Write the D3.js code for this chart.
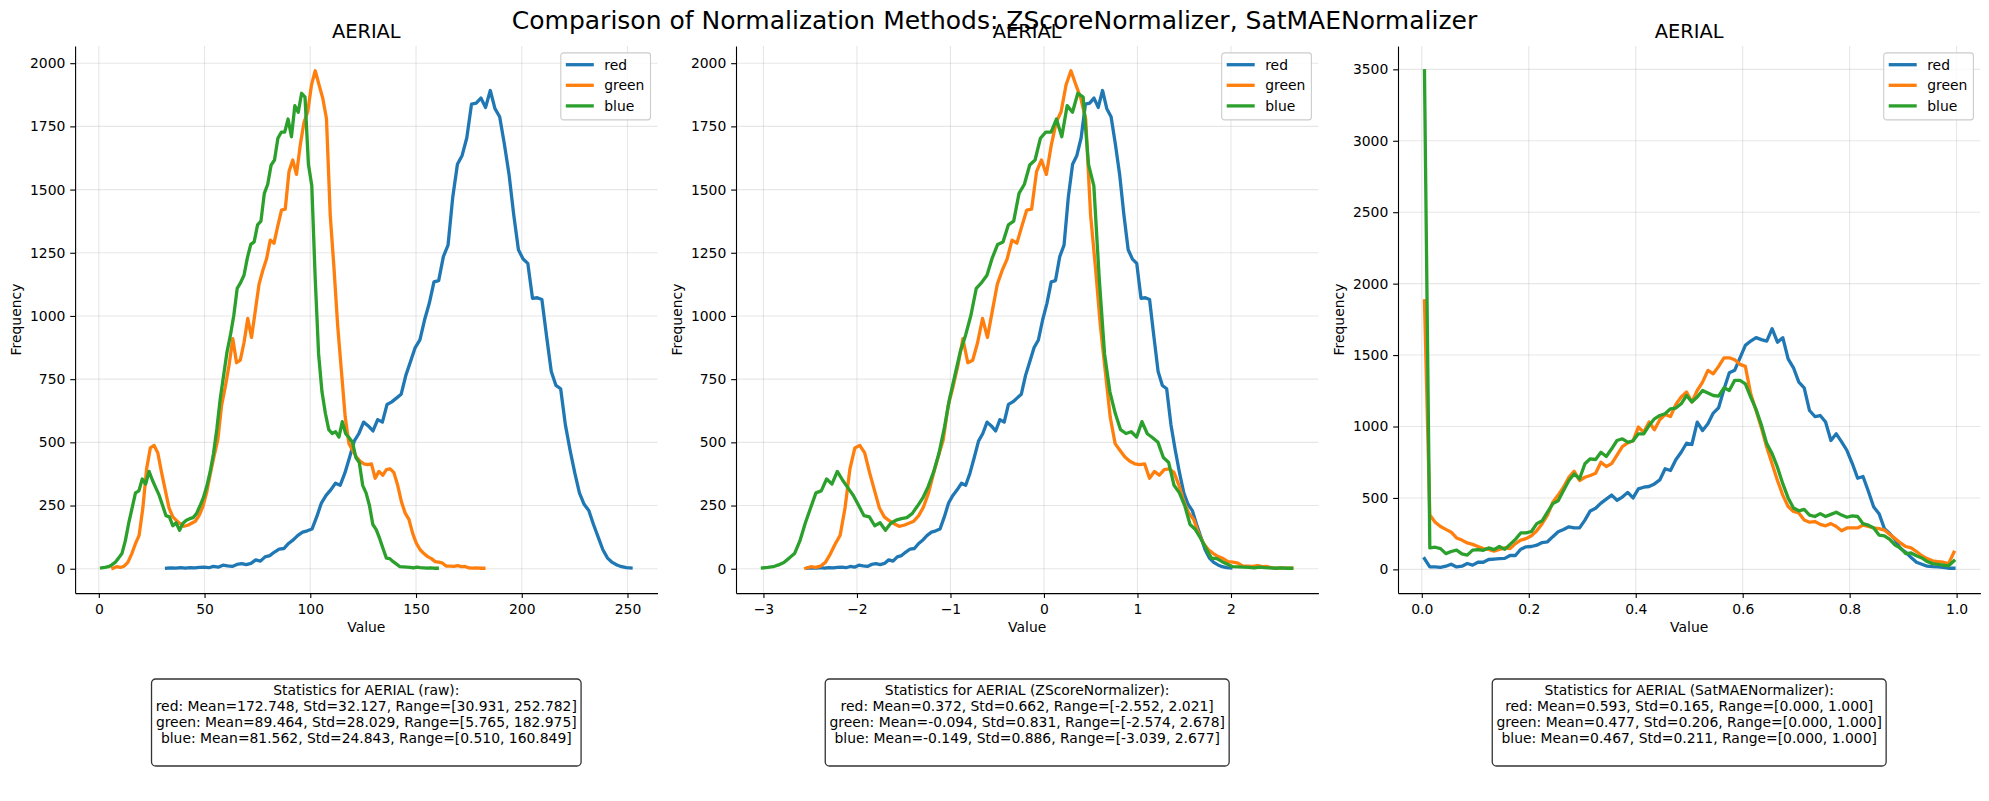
<!DOCTYPE html>
<html>
<head>
<meta charset="utf-8">
<script src="https://cdn.jsdelivr.net/npm/d3@7"></script>
<style>
body { margin: 0; background: #fff; }
svg text { font-family: "DejaVu Sans", sans-serif; fill: #000; }
</style>
</head>
<body>
<div id="chart"></div>
<script>
// ---- data ----
const channels = ["red", "green", "blue"]
const lineColors = ["#1f77b4", "#ff7f0e", "#2ca02c"]
const nBins = 100

// raw histogram counts, 100 bins per channel (the z-score panel uses the same bins)
const rawRed = [2,3,2,4,2,4,3,5,6,4, 9,6,14,11,9,17,20,16,21,35,
  30,47,52,66,78,80,100,114,132,145, 150,157,205,260,290,312,338,330,378,440,
  505,535,580,565,545,590,580,650,660,675, 690,765,820,875,905,985,1050,1135,1140,1235,
  1280,1470,1600,1635,1705,1838,1842,1862,1825,1892, 1820,1788,1680,1560,1400,1262,1225,1208,1070,1072,
  1065,920,780,725,712,570,470,380,300,255, 230,175,125,75,42,25,15,8,4,3]
const rawGreen = [2,8,5,10,25,58,98,132,240,395, 478,488,458,380,310,240,205,190,178,168,
  172,180,188,210,245,300,375,445,510,645, 720,805,910,815,825,895,990,915,1020,1125,
  1180,1225,1300,1288,1355,1419,1423,1571,1617,1560, 1676,1766,1808,1914,1970,1915,1862,1780,1400,1190,
  960,780,600,495,468,442,425,415,412,415, 358,385,370,392,395,380,330,265,220,195,
  140,100,75,60,48,40,28,26,22,10, 10,9,12,8,9,3,2,3,2,2]
const rawBlue = [3,5,8,15,25,42,60,110,180,240, 300,308,355,335,385,350,320,290,250,210,
  205,170,182,152,180,192,198,202,218,248, 280,325,382,455,554,673,765,858,924,1003,
  1109,1132,1161,1230,1283,1293,1360,1375,1485,1521, 1597,1617,1703,1727,1727,1779,1709,1832,1806,1881,
  1866,1600,1515,1150,850,700,615,550,535,542, 521,582,534,518,500,440,420,330,300,250,
  175,155,120,80,42,40,28,18,8,7, 6,5,3,6,4,3,2,3,2,2]

// SatMAE-normalised histogram counts, 100 bins on [0, 1]
const satRed = [75,17,17,14,22,36,17,22,41,30, 50,50,69,72,75,77,97,97,141,158,
  160,169,188,193,229,263,279,298,290,290, 345,409,428,464,492,520,484,506,539,500,
  563,575,580,598,626,704,692,767,820,883, 874,1031,972,1019,1094,1131,1260,1376,1393,1480,
  1568,1598,1622,1608,1598,1685,1590,1622,1474,1411, 1311,1271,1112,1070,1077,1031,902,949,893,832,
  741,638,650,547,437,390,285,251,207,146, 119,83,50,36,22,19,17,14,8,8]
const satGreen = [1880,380,330,300,280,260,220,205,185,175, 160,145,140,128,140,150,145,180,205,215,
  235,270,320,380,470,520,575,645,687,622, 645,657,673,750,720,740,800,860,885,900,
  996,960,1031,977,1047,1084,1070,1154,1206,1241, 1171,1252,1311,1393,1369,1421,1481,1481,1467,1435,
  1421,1229,1112,990,855,739,622,520,440,405, 395,345,330,335,315,305,320,300,270,290,
  290,290,310,300,290,285,275,245,215,185, 160,150,125,95,75,60,55,50,40,120]
const satBlue = [3490,150,155,145,110,125,135,108,100,135, 138,133,150,138,160,140,175,210,255,255,
  265,320,340,400,460,480,552,622,668,634, 739,774,769,820,790,844,902,914,890,900,
  949,949,1007,1054,1077,1089,1124,1129,1159,1217, 1171,1206,1252,1234,1217,1213,1271,1252,1323,1323,
  1299,1206,1120,1010,880,810,715,600,500,430, 410,420,380,370,390,370,385,400,380,365,
  375,370,320,310,290,240,235,210,170,150, 110,115,95,80,55,40,35,30,25,60]

// value ranges per channel (from the statistics boxes)
const rawRanges = [[30.931, 252.782], [5.765, 182.975], [0.510, 160.849]]
const zRanges = [[-2.552, 2.021], [-2.574, 2.678], [-3.039, 2.677]]
const satRanges = [[0, 1], [0, 1], [0, 1]]

const xTicksRaw = [0, 50, 100, 150, 200, 250]
const xTicksZ = [-3, -2, -1, 0, 1, 2]
const xTicksSat = [0, 0.2, 0.4, 0.6, 0.8, 1.0]
const yTicksRaw = [0, 250, 500, 750, 1000, 1250, 1500, 1750, 2000]
const yTicksSat = [0, 500, 1000, 1500, 2000, 2500, 3000, 3500]

const suptitle = "Comparison of Normalization Methods: ZScoreNormalizer, SatMAENormalizer"
const statsRaw = ["Statistics for AERIAL (raw):",
  "red: Mean=172.748, Std=32.127, Range=[30.931, 252.782]",
  "green: Mean=89.464, Std=28.029, Range=[5.765, 182.975]",
  "blue: Mean=81.562, Std=24.843, Range=[0.510, 160.849]"]
const statsZ = ["Statistics for AERIAL (ZScoreNormalizer):",
  "red: Mean=0.372, Std=0.662, Range=[-2.552, 2.021]",
  "green: Mean=-0.094, Std=0.831, Range=[-2.574, 2.678]",
  "blue: Mean=-0.149, Std=0.886, Range=[-3.039, 2.677]"]
const statsSat = ["Statistics for AERIAL (SatMAENormalizer):",
  "red: Mean=0.593, Std=0.165, Range=[0.000, 1.000]",
  "green: Mean=0.477, Std=0.206, Range=[0.000, 1.000]",
  "blue: Mean=0.467, Std=0.211, Range=[0.000, 1.000]"]

const panels = [
  {counts: [rawRed, rawGreen, rawBlue], ranges: rawRanges, xTicks: xTicksRaw, yTicks: yTicksRaw, fmt: d3.format("d"), stats: statsRaw},
  {counts: [rawRed, rawGreen, rawBlue], ranges: zRanges, xTicks: xTicksZ, yTicks: yTicksRaw, fmt: d3.format("d"), stats: statsZ},
  {counts: [satRed, satGreen, satBlue], ranges: satRanges, xTicks: xTicksSat, yTicks: yTicksSat, fmt: d3.format(".1f"), stats: statsSat}
]

// ---- layout ----
const W = 1989, H = 801
const axLefts = [75.1, 736, 1398]
const axTop = 45.9, axW = 582.4, axH = 547.2
const fs = 13.9

const svg = d3.select("#chart").append("svg")
    .attr("width", W)
    .attr("height", H)

svg.append("text")
    .attr("x", 994.5)
    .attr("y", 29)
    .attr("text-anchor", "middle")
    .style("font-size", "25px")
    .text(suptitle)

panels.forEach((p, k) => {
  const g = svg.append("g").attr("transform", `translate(${axLefts[k]}, ${axTop})`)

  // bin centres from each channel's range
  const series = p.counts.map((c, j) => {
    const [lo, hi] = p.ranges[j]
    return c.map((v, i) => ({x: lo + (i + 0.5) * (hi - lo) / nBins, y: v}))
  })
  const all = series.flat()
  const [xa, xb] = d3.extent(all, d => d.x)
  const [ya, yb] = d3.extent(all, d => d.y)
  const mx = (xb - xa) * 0.05, my = (yb - ya) * 0.05

  const x = d3.scaleLinear().domain([xa - mx, xb + mx]).range([0, axW])
  const y = d3.scaleLinear().domain([ya - my, yb + my]).range([axH, 0])

  // grid
  g.append("g").selectAll("line")
    .data(p.xTicks)
    .join("line")
      .attr("x1", d => x(d)).attr("x2", d => x(d))
      .attr("y1", 0).attr("y2", axH)
      .attr("stroke", "#b0b0b0").attr("stroke-opacity", 0.3).attr("stroke-width", 1.1)
  g.append("g").selectAll("line")
    .data(p.yTicks)
    .join("line")
      .attr("y1", d => y(d)).attr("y2", d => y(d))
      .attr("x1", 0).attr("x2", axW)
      .attr("stroke", "#b0b0b0").attr("stroke-opacity", 0.3).attr("stroke-width", 1.1)

  // axes
  const xAxis = g.append("g")
      .attr("transform", `translate(0, ${axH})`)
      .call(d3.axisBottom(x).tickValues(p.xTicks).tickFormat(p.fmt)
        .tickSize(4.86).tickPadding(4.86).tickSizeOuter(0))
  const yAxis = g.append("g")
      .call(d3.axisLeft(y).tickValues(p.yTicks).tickFormat(d3.format("d"))
        .tickSize(4.86).tickPadding(4.86).tickSizeOuter(0))
  for (const ax of [xAxis, yAxis]) {
    ax.attr("font-family", null).attr("font-size", null)
    ax.selectAll("text").style("font-size", fs + "px")
    ax.selectAll("line, path").attr("stroke", "#000").attr("stroke-width", 1.1)
  }
  xAxis.selectAll("text").attr("dy", "0.78em")

  // lines
  const line = d3.line().x(d => x(d.x)).y(d => y(d.y))
  g.append("g").selectAll("path")
    .data(series)
    .join("path")
      .attr("d", line)
      .attr("fill", "none")
      .attr("stroke", (d, j) => lineColors[j])
      .attr("stroke-width", 3.3)
      .attr("stroke-linejoin", "round")
      .attr("stroke-linecap", "square")

  // title and axis labels
  g.append("text")
      .attr("x", axW / 2)
      .attr("y", -8)
      .attr("text-anchor", "middle")
      .style("font-size", "19.4px")
      .text("AERIAL")
  g.append("text")
      .attr("x", axW / 2)
      .attr("y", axH + 39)
      .attr("text-anchor", "middle")
      .style("font-size", fs + "px")
      .text("Value")
  const tickW = d3.max(yAxis.selectAll("text").nodes(), n => n.getBBox().width)
  g.append("text")
      .attr("transform", `translate(${-9.72 - tickW - 9}, ${axH / 2}) rotate(-90)`)
      .attr("text-anchor", "middle")
      .style("font-size", fs + "px")
      .text("Frequency")

  // legend
  const leg = g.append("g").attr("transform", `translate(${axW - 7 - 89.7}, 7)`)
  leg.append("rect")
      .attr("width", 89.7).attr("height", 67)
      .attr("rx", 2.8)
      .attr("fill", "#fff").attr("fill-opacity", 0.8)
      .attr("stroke", "#cccccc").attr("stroke-width", 1.1)
  channels.forEach((c, j) => {
    const yy = 11.8 + j * 20.6
    leg.append("line")
        .attr("x1", 5).attr("x2", 33)
        .attr("y1", yy).attr("y2", yy)
        .attr("stroke", lineColors[j]).attr("stroke-width", 3.3)
    leg.append("text")
        .attr("x", 43.5).attr("y", yy)
        .attr("dy", "0.35em")
        .style("font-size", fs + "px")
        .text(c)
  })

  // statistics box, centred under the axes
  const cx = axLefts[k] + axW / 2
  const sb = svg.append("g")
  const rect = sb.append("rect")
  const txt = sb.append("text")
      .attr("text-anchor", "middle")
      .style("font-size", fs + "px")
  p.stats.forEach((s, i) => {
    txt.append("tspan").attr("x", cx).attr("y", 695 + i * 16).text(s)
  })
  const tw = d3.max(txt.selectAll("tspan").nodes(), n => n.getComputedTextLength())
  rect.attr("x", cx - tw / 2 - 4.2).attr("y", 679)
      .attr("width", tw + 8.4).attr("height", 87)
      .attr("rx", 4.2)
      .attr("fill", "#fff")
      .attr("stroke", "#333").attr("stroke-width", 1.3)
})
</script>
</body>
</html>
